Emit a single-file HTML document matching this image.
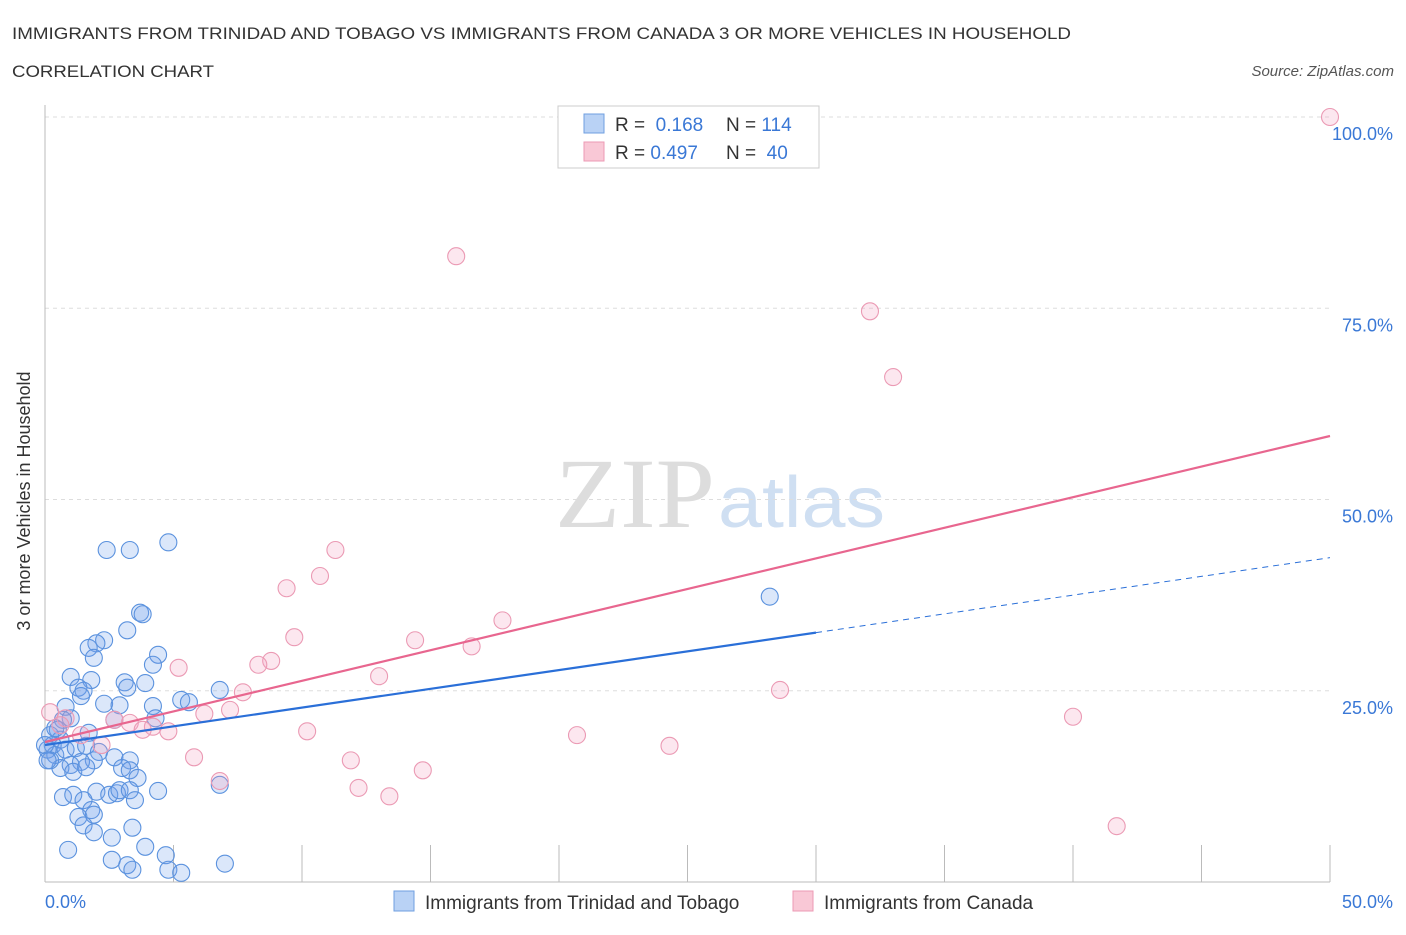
<!DOCTYPE html>
<html><head><meta charset="utf-8"><style>
body{margin:0;background:#fff;font-family:"Liberation Sans",sans-serif;}
</style></head><body>
<svg id="c" width="1406" height="930" xmlns="http://www.w3.org/2000/svg" font-family="Liberation Sans, sans-serif">
<text x="12" y="39" font-size="17" fill="#333" textLength="1059" lengthAdjust="spacingAndGlyphs">IMMIGRANTS FROM TRINIDAD AND TOBAGO VS IMMIGRANTS FROM CANADA 3 OR MORE VEHICLES IN HOUSEHOLD</text>
<text x="12" y="77" font-size="17" fill="#333" textLength="202" lengthAdjust="spacingAndGlyphs">CORRELATION CHART</text>
<text x="1394" y="76" font-size="15" fill="#555" font-style="italic" text-anchor="end">Source: ZipAtlas.com</text>
<text x="555" y="527" font-size="100" fill="#ddd" textLength="160" lengthAdjust="spacingAndGlyphs" font-family="Liberation Serif, serif">ZIP</text>
<text x="718" y="527" font-size="72" fill="#cfdff2" textLength="167" lengthAdjust="spacingAndGlyphs">atlas</text>
<g id="grid"></g><g id="marks"></g>
<text x="24" y="495" font-size="18" fill="#333" transform="rotate(-90 30 495)" text-anchor="middle">3 or more Vehicles in Household</text>
<text x="45" y="908" font-size="18" fill="#3a78d6">0.0%</text>
<text x="1393" y="908" font-size="18" fill="#3a78d6" text-anchor="end">50.0%</text>
<g>
<rect x="558" y="106" width="261" height="62" fill="#fff" stroke="#ccc"/>
<rect x="584" y="114" width="20" height="19" fill="#b9d2f5" stroke="#6f9fe0"/>
<rect x="584" y="142" width="20" height="19" fill="#f9c8d6" stroke="#ec9ab4"/>
<text x="615" y="131" font-size="19" fill="#333">R = <tspan fill="#3a78d6">&#160;0.168</tspan><tspan x="726">N = </tspan><tspan fill="#3a78d6">114</tspan></text>
<text x="615" y="159" font-size="19" fill="#333">R = <tspan fill="#3a78d6">0.497</tspan><tspan x="726">N = </tspan><tspan fill="#3a78d6">&#160;40</tspan></text>
</g>
<g>
<rect x="394" y="891" width="20" height="20" fill="#b9d2f5" stroke="#6f9fe0"/>
<text x="425" y="909" font-size="19" fill="#333">Immigrants from Trinidad and Tobago</text>
<rect x="793" y="891" width="20" height="20" fill="#f9c8d6" stroke="#ec9ab4"/>
<text x="824" y="909" font-size="19" fill="#333">Immigrants from Canada</text>
</g>
</svg>
<script>
const blueX=[2.4,3.3,4.8,3.7,3.8,3.2,2.3,2.0,1.7,1.9,4.4,4.2,1.0,1.8,3.1,3.9,3.2,1.3,1.5,1.4,6.8,5.3,5.6,2.3,2.9,4.2,0.8,1.0,2.7,4.3,0.7,1.7,0.5,0.2,0.6,0.3,0.1,0.4,0.8,1.2,1.6,2.1,1.9,1.4,1.0,0.6,0.2,2.7,3.3,3.0,3.3,3.6,1.1,1.6,0.7,1.1,2.0,2.5,2.8,2.9,3.3,4.4,3.5,1.5,1.8,1.3,1.9,1.5,1.9,3.4,2.6,0.9,3.9,2.6,3.2,3.4,4.7,4.8,5.3,7.0,6.8,28.2,0.0,0.1,0.4];
const blueY=[43.4,43.4,44.4,35.2,35.0,32.9,31.6,31.2,30.6,29.3,29.7,28.4,26.8,26.4,26.1,26.0,25.4,25.4,25.0,24.3,25.1,23.8,23.5,23.3,23.1,23.0,22.9,21.4,21.2,21.4,21.2,19.5,19.9,19.2,18.6,17.9,17.3,16.6,17.3,17.5,17.8,17.0,15.9,15.7,15.3,14.9,15.9,16.3,15.9,14.9,14.6,13.6,14.4,15.0,11.1,11.4,11.8,11.4,11.6,12.0,12.0,11.9,10.7,10.7,9.4,8.5,8.8,7.4,6.5,7.1,5.8,4.2,4.6,2.9,2.2,1.6,3.5,1.6,1.2,2.4,12.7,37.3,17.9,15.9,20.1];
const pinkX=[50,16.0,32.1,33.0,11.3,10.7,9.4,17.8,9.7,14.4,16.6,5.2,8.8,8.3,13.0,7.7,28.6,7.2,6.2,40.0,3.3,4.2,3.8,4.8,10.2,20.7,2.2,24.3,5.8,11.9,14.7,6.8,12.2,13.4,41.7,0.2,0.8,0.6,1.4,2.7];
const pinkY=[100,81.8,74.6,66.0,43.4,40.0,38.4,34.2,32.0,31.6,30.8,28.0,28.9,28.4,26.9,24.8,25.1,22.5,22.0,21.6,20.8,20.3,19.9,19.7,19.7,19.2,17.9,17.8,16.3,15.9,14.6,13.2,12.3,11.2,7.3,22.2,21.4,20.5,19.2,21.2];
const blueTrend=[17.9,0.49];
const pinkTrend=[18.3,0.80];
const yTicks=[25,50,75,100];
const yTickLabels=["25.0%","50.0%","75.0%","100.0%"];
const xTicks=[0,5,10,15,20,25,30,35,40,45,50];
const NS="http://www.w3.org/2000/svg";
const sx=v=>45+v*1285/50, sy=v=>882-v*7.65;
const grid=document.getElementById('grid'), marks=document.getElementById('marks');
function mk(p,tag,at){const e=document.createElementNS(NS,tag);for(const k in at)e.setAttribute(k,at[k]);p.appendChild(e);return e;}
yTicks.forEach((t,i)=>{
 const l=mk(grid,'line',{x1:45,x2:1330,y1:sy(t),y2:sy(t),stroke:'#ddd','stroke-dasharray':'4 4'});
 
 
 const tx=mk(grid,'text',{x:1393,y:sy(t)+23,'font-size':18,fill:'#3a78d6','text-anchor':'end'});
 tx.textContent=yTickLabels[i];
 
 
});
xTicks.forEach(t=>{
 const l=mk(grid,'line',{x1:sx(t),x2:sx(t),y1:845,y2:882,stroke:'#bbb'});
 
 
});
let a=mk(grid,'line',{x1:45,x2:45,y1:105,y2:882,stroke:'#bbb'});


a=mk(grid,'line',{x1:45,x2:1330,y1:882,y2:882,stroke:'#bbb'});


blueX.forEach((x,i)=>{
 const c=mk(marks,'circle',{cx:sx(x),cy:sy(blueY[i]),r:8.5,fill:'rgba(110,160,235,0.25)',stroke:'#5b92de','stroke-width':1.1});
 
 
});
pinkX.forEach((x,i)=>{
 const c=mk(marks,'circle',{cx:sx(x),cy:sy(pinkY[i]),r:8.5,fill:'rgba(245,160,190,0.25)',stroke:'#eb9ab4','stroke-width':1.1});
 
 
});
const bf=x=>blueTrend[0]+blueTrend[1]*x, pf=x=>pinkTrend[0]+pinkTrend[1]*x;
let t=mk(marks,'line',{x1:sx(0),y1:sy(bf(0)),x2:sx(30),y2:sy(bf(30)),stroke:'#2a6fd8','stroke-width':2.2});


t=mk(marks,'line',{x1:sx(30),y1:sy(bf(30)),x2:sx(50),y2:sy(bf(50)),stroke:'#2a6fd8','stroke-width':1,'stroke-dasharray':'6 5'});


t=mk(marks,'line',{x1:sx(0),y1:sy(pf(0)),x2:sx(50),y2:sy(pf(50)),stroke:'#e8668f','stroke-width':2.2});


</script>
</body></html>
